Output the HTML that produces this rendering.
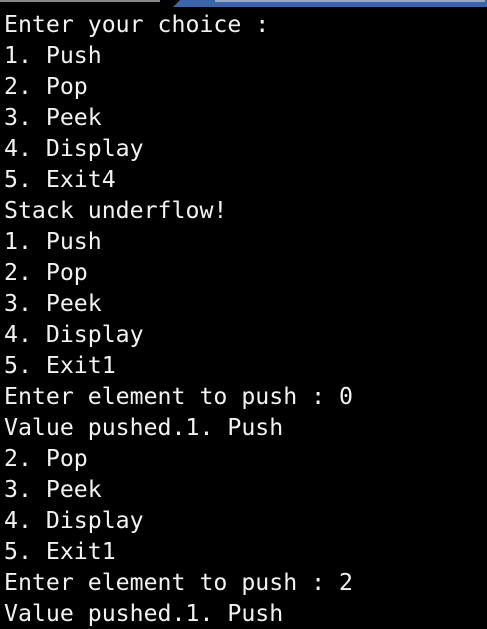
<html><head><style>
body{margin:0;width:487px;height:626px;background:#000;overflow:hidden;position:relative}
pre{position:absolute;left:4px;top:9px;margin:0;font-family:"DejaVu Sans Mono","Liberation Mono",monospace;font-size:23.2px;line-height:31px;color:#f2f2f2}
.bar{position:absolute;left:0;top:0;width:487px;height:7px}
</style></head><body>
<svg class="bar" width="487" height="7"><polygon points="180,0 487,0 487,7 173,7" fill="#3a66a8"/><rect x="0" y="0" width="160" height="2" fill="#888"/><rect x="215" y="0" width="270" height="2" fill="#9ab"/></svg>
<pre>Enter your choice :
1. Push
2. Pop
3. Peek
4. Display
5. Exit4
Stack underflow!
1. Push
2. Pop
3. Peek
4. Display
5. Exit1
Enter element to push : 0
Value pushed.1. Push
2. Pop
3. Peek
4. Display
5. Exit1
Enter element to push : 2
Value pushed.1. Push</pre>
</body></html>
